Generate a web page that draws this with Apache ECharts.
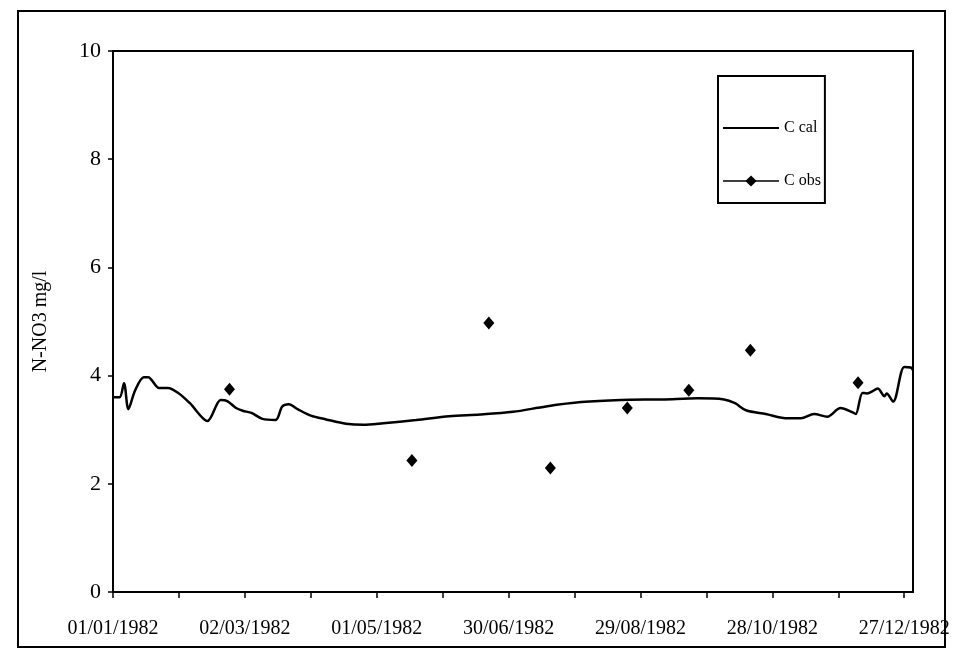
<!DOCTYPE html>
<html>
<head>
<meta charset="utf-8">
<script src="https://cdn.jsdelivr.net/npm/echarts@6/dist/echarts.min.js"></script>
<style>
  html, body { margin: 0; padding: 0; background: #fff; }
  #chart { width: 953px; height: 649px; }
</style>
</head>
<body>
<div id="chart"></div>
<script>
var YEAR_START = Date.UTC(1982, 0, 1);
var DAY_MS = 86400000;

// simulated concentration (day of year, value)
var calDay = [0, 3, 5, 7, 10, 14, 16, 21, 25, 30, 35, 43, 49, 52, 56, 59, 63, 68, 74, 77,
  80, 84, 90, 97, 106, 114, 123, 138, 153, 167, 182, 197, 213, 231, 250, 266, 278, 283,
  288, 297, 307, 313, 319, 325, 331, 337, 338, 341, 343, 345, 348, 351, 352, 355, 360, 363, 364];
var calValue = [3.60, 3.60, 3.86, 3.38, 3.72, 3.97, 3.97, 3.77, 3.77, 3.67, 3.49, 3.16, 3.55, 3.53,
  3.40, 3.35, 3.31, 3.20, 3.18, 3.43, 3.47, 3.38, 3.26, 3.19, 3.11, 3.09, 3.12, 3.18, 3.25, 3.28,
  3.33, 3.43, 3.51, 3.55, 3.56, 3.58, 3.56, 3.49, 3.36, 3.29, 3.21, 3.21, 3.29, 3.24, 3.40, 3.31,
  3.29, 3.68, 3.67, 3.70, 3.76, 3.62, 3.67, 3.52, 4.16, 4.15, 4.10];

// observed concentration
var obsDate = ['23/02/1982', '17/05/1982', '21/06/1982', '19/07/1982', '23/08/1982',
  '20/09/1982', '18/10/1982', '06/12/1982'];
var obsValue = [3.75, 2.43, 4.97, 2.29, 3.40, 3.73, 4.47, 3.87];

var yTicks = [0, 2, 4, 6, 8, 10];

function dayOf(s) {
  var p = s.split('/');
  return Math.round((Date.UTC(+p[2], +p[1] - 1, +p[0]) - YEAR_START) / DAY_MS);
}

function pad(n) { return (n < 10 ? '0' : '') + n; }

function dateLabel(day) {
  var d = new Date(YEAR_START + day * DAY_MS);
  return pad(d.getUTCDate()) + '/' + pad(d.getUTCMonth() + 1) + '/' + d.getUTCFullYear();
}

var calData = calDay.map(function (d, i) { return [d, calValue[i]]; });
var obsData = obsDate.map(function (d, i) { return [dayOf(d), obsValue[i]]; });

var serif = 'Liberation Serif';

var chart = echarts.init(document.getElementById('chart'));

var option = {
  animation: false,
  backgroundColor: '#fff',
  graphic: [{
    type: 'rect',
    shape: { x: 18, y: 11, width: 927, height: 636 },
    style: { fill: 'none', stroke: '#000', lineWidth: 2 },
    silent: true
  }],
  grid: {
    left: 113, top: 51, right: 40, bottom: 57,
    show: true, borderColor: '#000', borderWidth: 2, backgroundColor: 'transparent'
  },
  legend: {
    orient: 'vertical',
    left: 718, top: 76,
    padding: [44, 4, 14, 4],
    itemGap: 37,
    itemWidth: 56,
    itemHeight: 14,
    borderColor: '#000',
    borderWidth: 2,
    borderRadius: 0,
    textStyle: { fontFamily: serif, fontSize: 16, color: '#000' },
    data: [
      { name: 'C cal', itemStyle: { opacity: 0 } },
      { name: 'C obs', lineStyle: { opacity: 1, width: 1.5, color: '#000' } }
    ]
  },
  xAxis: {
    type: 'value',
    min: 0,
    max: 364,
    interval: 30,
    axisLine: { lineStyle: { color: '#000', width: 2 } },
    axisTick: { inside: false, length: 6, lineStyle: { color: '#000', width: 1.5 } },
    splitLine: { show: false },
    axisLabel: {
      margin: 27,
      color: '#000',
      fontFamily: serif,
      fontSize: 20,
      showMaxLabel: false,
      formatter: function (v) {
        return v % 60 === 0 ? dateLabel(v) : '';
      }
    }
  },
  yAxis: {
    type: 'value',
    min: yTicks[0],
    max: yTicks[yTicks.length - 1],
    interval: yTicks[1] - yTicks[0],
    name: 'N-NO3 mg/l',
    nameLocation: 'middle',
    nameGap: 62,
    nameTextStyle: { fontFamily: serif, fontSize: 20, color: '#000' },
    axisLine: { show: true, lineStyle: { color: '#000', width: 2 } },
    axisTick: { show: true, inside: false, length: 5, lineStyle: { color: '#000', width: 1.5 } },
    splitLine: { show: false },
    axisLabel: { margin: 12, color: '#000', fontFamily: serif, fontSize: 22 }
  },
  series: [
    {
      name: 'C cal',
      type: 'line',
      data: calData,
      smooth: 0.3,
      showSymbol: false,
      symbol: 'none',
      lineStyle: { color: '#000', width: 2.5 },
      itemStyle: { color: '#000' }
    },
    {
      name: 'C obs',
      type: 'line',
      data: obsData,
      symbol: 'diamond',
      symbolSize: [11, 13],
      lineStyle: { color: '#000', opacity: 0 },
      itemStyle: { color: '#000' }
    }
  ]
};

chart.setOption(option);
</script>
</body>
</html>
